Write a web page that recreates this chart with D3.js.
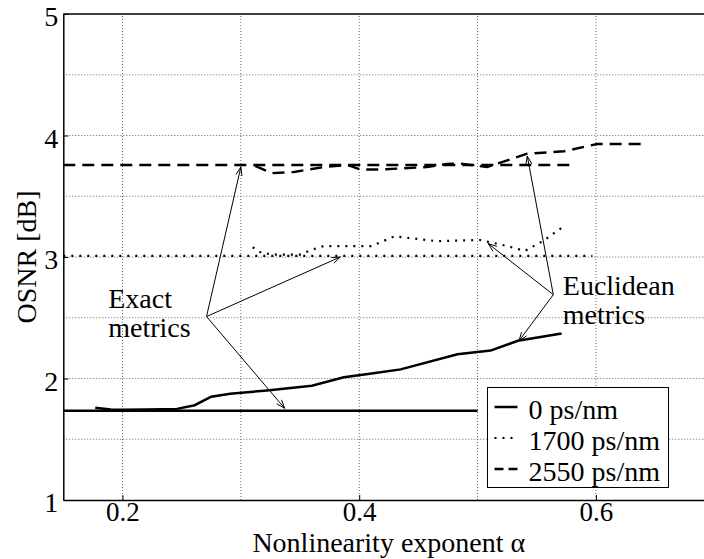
<!DOCTYPE html>
<html>
<head>
<meta charset="utf-8">
<script src="https://cdn.jsdelivr.net/npm/d3@7"></script>
<style>
  body { margin: 0; background: #fff; }
  text { font-family: "Liberation Serif", "Times New Roman", serif; fill: #000; }
</style>
</head>
<body>
<svg id="chart" width="704" height="559"></svg>
<script>
// ---- data ----
const xTicks = [0.2, 0.4, 0.6];
const xGrid = [0.2, 0.3, 0.4, 0.5, 0.6, 0.7];
const yTicks = [1, 2, 3, 4, 5];
const yGrid = [1.5, 2, 2.5, 3, 3.5, 4, 4.5];

const seriesNames = ["0 ps/nm", "1700 ps/nm", "2550 ps/nm"];

// exact metrics: flat lines
const exact0 = [[0.15, 1.735], [0.5, 1.735]];
const exact1700 = [[0.15, 3.01], [0.597, 3.01]];
const exact2550 = [[0.15, 3.757], [0.58, 3.757]];

// euclidean metrics
const euclid0 = [[0.177, 1.76], [0.19, 1.745], [0.2, 1.743], [0.22, 1.745], [0.246, 1.75],
  [0.261, 1.78], [0.275, 1.85], [0.291, 1.875], [0.32, 1.9], [0.36, 1.94], [0.387, 2.01],
  [0.409, 2.04], [0.435, 2.075], [0.483, 2.2], [0.511, 2.23], [0.534, 2.31], [0.571, 2.37]];
const euclid1700 = [[0.31, 3.08], [0.318, 3.03], [0.33, 3.02], [0.35, 3.02], [0.36, 3.06],
  [0.37, 3.09], [0.39, 3.09], [0.41, 3.09], [0.43, 3.17], [0.466, 3.13], [0.502, 3.14],
  [0.525, 3.09], [0.54, 3.05], [0.555, 3.13], [0.571, 3.24]];
const euclid2550 = [[0.312, 3.75], [0.326, 3.69], [0.345, 3.70], [0.37, 3.74], [0.39, 3.757],
  [0.401, 3.72], [0.418, 3.72], [0.457, 3.74], [0.474, 3.765], [0.485, 3.77], [0.508, 3.74],
  [0.542, 3.85], [0.573, 3.87], [0.601, 3.93], [0.639, 3.93]];

// annotation arrows: hub -> targets
const exactHub = [0.271, 2.51];
const exactTargets = [[0.30, 3.74], [0.384, 3.0], [0.337, 1.755]];
const euclidHub = [0.564, 2.69];
const euclidTargets = [[0.542, 3.83], [0.509, 3.11], [0.535, 2.31]];

// ---- layout ----
const svg = d3.select("#chart");
const margin = {top: 14, left: 63.3, bottom: 500};
const plotRight = 714.3;
const fontSize = 28;

const x = d3.scaleLinear().domain([0.15, 0.7]).range([margin.left, plotRight]);
const y = d3.scaleLinear().domain([1, 5]).range([margin.bottom, margin.top]);

// grid
svg.append("g")
  .selectAll("line")
  .data(xGrid)
  .join("line")
  .attr("x1", d => x(d)).attr("x2", d => x(d))
  .attr("y1", y(1)).attr("y2", y(5))
  .attr("stroke", "#666").attr("stroke-width", 1).attr("stroke-dasharray", "1,2");

svg.append("g")
  .selectAll("line")
  .data(yGrid)
  .join("line")
  .attr("x1", x(0.15)).attr("x2", x(0.7))
  .attr("y1", d => y(d)).attr("y2", d => y(d))
  .attr("stroke", "#666").attr("stroke-width", 1).attr("stroke-dasharray", "1,2");

// axes
const xAxis = svg.append("g")
  .attr("transform", `translate(0, ${y(1)})`)
  .call(d3.axisBottom(x).tickValues(xTicks).tickFormat(d3.format(".1f")).tickSizeInner(-5).tickSizeOuter(0).tickPadding(2));

const yAxis = svg.append("g")
  .attr("transform", `translate(${x(0.15)}, 0)`)
  .call(d3.axisLeft(y).tickValues(yTicks).tickFormat(d3.format("d")).tickSizeInner(-5).tickSizeOuter(0).tickPadding(5));

[xAxis, yAxis].forEach(g => {
  g.select(".domain").attr("stroke", "#000").attr("stroke-width", 1.5);
  g.selectAll(".tick line").attr("stroke", "#000");
  g.selectAll("text")
    .style("font-family", "Liberation Serif, serif")
    .style("font-size", "27px")
    .attr("fill", "#000");
});
yAxis.selectAll("text").attr("dy", "0.42em").style("font-size", fontSize + "px");

// top border
svg.append("line")
  .attr("x1", x(0.15)).attr("x2", x(0.7))
  .attr("y1", y(5)).attr("y2", y(5))
  .attr("stroke", "#000").attr("stroke-width", 1.5);

// series
const line = d3.line().x(d => x(d[0])).y(d => y(d[1]));
const styles = [
  {dash: null, width: 2.5},
  {dash: "2,6", width: 2.2},
  {dash: "12,7", width: 2.4}
];

const curves = [
  [exact0, 0], [euclid0, 0],
  [exact1700, 1], [euclid1700, 1],
  [exact2550, 2], [euclid2550, 2]
];

svg.append("g")
  .selectAll("path")
  .data(curves)
  .join("path")
  .attr("d", d => line(d[0]))
  .attr("fill", "none")
  .attr("stroke", "#000")
  .attr("stroke-width", d => styles[d[1]].width)
  .attr("stroke-dasharray", d => styles[d[1]].dash);

// arrows
function arrow(g, from, to) {
  const x1 = x(from[0]), y1 = y(from[1]), x2 = x(to[0]), y2 = y(to[1]);
  const ang = Math.atan2(y2 - y1, x2 - x1);
  const len = 9, spread = 0.35;
  g.append("line")
    .attr("x1", x1).attr("y1", y1).attr("x2", x2).attr("y2", y2)
    .attr("stroke", "#000").attr("stroke-width", 1);
  g.append("path")
    .attr("d", `M${x2 - len * Math.cos(ang - spread)},${y2 - len * Math.sin(ang - spread)}L${x2},${y2}L${x2 - len * Math.cos(ang + spread)},${y2 - len * Math.sin(ang + spread)}`)
    .attr("fill", "none").attr("stroke", "#000").attr("stroke-width", 1);
}
const ann = svg.append("g");
exactTargets.forEach(t => arrow(ann, exactHub, t));
euclidTargets.forEach(t => arrow(ann, euclidHub, t));

// annotation text
function label(px, py, lines) {
  const t = svg.append("text")
    .attr("x", x(px)).attr("y", y(py))
    .style("font-size", fontSize + "px");
  lines.forEach((s, i) => t.append("tspan").attr("x", x(px)).attr("dy", i === 0 ? 0 : 29).text(s));
}
label(0.188, 2.58, ["Exact", "metrics"]);
label(0.572, 2.687, ["Euclidean", "metrics"]);

// legend
const legend = svg.append("g").attr("transform", "translate(487.5, 387.5)");
legend.append("rect")
  .attr("width", 181).attr("height", 100)
  .attr("fill", "#fff").attr("stroke", "#000").attr("stroke-width", 1);

seriesNames.forEach((name, i) => {
  const cy = 19.5 + i * 31;
  legend.append("line")
    .attr("x1", 7).attr("x2", 30)
    .attr("y1", cy).attr("y2", cy)
    .attr("stroke", "#000")
    .attr("stroke-width", styles[i].width)
    .attr("stroke-dasharray", i === 2 ? "9,5" : (i === 1 ? "2,6" : null));
  legend.append("text")
    .attr("x", 41).attr("y", cy + 6.5)
    .attr("dy", "0.2em")
    .style("font-size", fontSize + "px")
    .text(name);
});

// axis titles
svg.append("text")
  .attr("x", (x(0.15) + x(0.7)) / 2)
  .attr("y", 552)
  .attr("text-anchor", "middle")
  .style("font-size", fontSize + "px")
  .text("Nonlinearity exponent α");

svg.append("text")
  .attr("transform", "rotate(-90)")
  .attr("x", -(y(1) + y(5)) / 2)
  .attr("y", 36)
  .attr("text-anchor", "middle")
  .style("font-size", fontSize + "px")
  .text("OSNR [dB]");
</script>
</body>
</html>
